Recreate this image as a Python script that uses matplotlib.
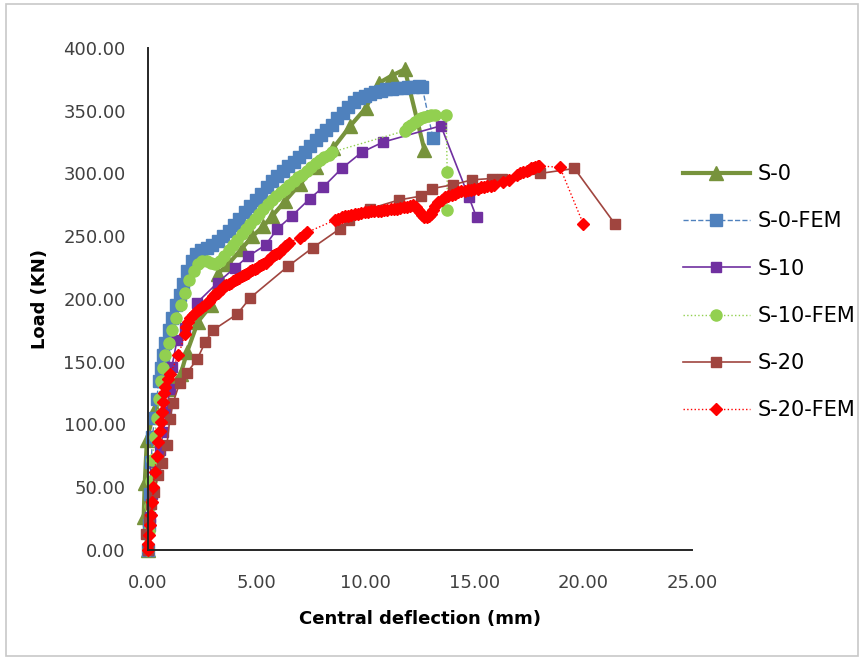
import matplotlib
matplotlib.use("Agg")
import matplotlib.pyplot as plt
from matplotlib.patches import Rectangle

# load-deflection curves (x = mm, y = kN)
s0_x = [0, -0.2, -0.15, -0.05, 0.3, 0.9, 1.5, 1.8, 2.3, 2.9, 3.2, 3.7, 4.3, 4.8, 5.3,
        5.7, 6.3, 7.0, 7.7, 8.5, 9.3, 10.0, 10.6, 11.2, 11.8, 12.7]
s0_y = [0, 26, 53, 88, 112, 128, 140, 158, 182, 195, 220, 228, 240, 250, 258,
        266, 278, 292, 305, 320, 338, 352, 372, 378, 383, 319]

s0fem_x = [0, 0.05, 0.1, 0.15, 0.2, 0.3, 0.4, 0.5, 0.6, 0.7, 0.8, 0.95, 1.1, 1.3, 1.45,
           1.6, 1.8, 2.0, 2.2, 2.45, 2.7, 2.95, 3.2, 3.45, 3.7, 3.95, 4.2, 4.45, 4.7,
           4.95, 5.2, 5.45, 5.7, 5.95, 6.2, 6.45, 6.7, 6.95, 7.2, 7.45, 7.7, 7.95,
           8.2, 8.45, 8.7, 8.95, 9.2, 9.45, 9.7, 9.95, 10.2, 10.45, 10.7, 10.95,
           11.2, 11.45, 11.7, 11.95, 12.2, 12.45, 12.6, 13.1]
s0fem_y = [0, 20, 45, 70, 90, 105, 120, 135, 145, 155, 165, 175, 185, 195, 203,
           212, 222, 230, 236, 239, 241, 243, 246, 250, 254, 259, 264, 269, 274,
           279, 284, 289, 294, 298, 302, 306, 309, 313, 317, 322, 327, 331,
           335, 339, 344, 348, 353, 357, 360, 362, 363, 365, 366, 367,
           367, 368, 368, 369, 369, 370, 369, 328]

s10_x = [0, 0.09, 0.2, 0.32, 0.45, 0.55, 0.7, 0.85, 1.0, 1.1, 1.33, 1.7, 2.25, 3.2,
         4.0, 4.6, 5.4, 5.95, 6.6, 7.44, 8.04, 8.9, 9.83, 10.8, 13.46, 14.75, 15.1]
s10_y = [0, 26, 45, 64, 72, 80, 94, 110, 128, 146, 167, 177, 197, 213,
         225, 234, 243, 256, 266, 280, 289, 304, 317, 325, 338, 281, 265]

s10fem_x = [0, 0.05, 0.1, 0.15, 0.2, 0.3, 0.4, 0.5, 0.6, 0.7, 0.8, 0.95, 1.1, 1.3,
            1.5, 1.7, 1.9, 2.1, 2.3, 2.5, 2.7, 2.9, 3.1, 3.3, 3.5, 3.7, 3.9, 4.1,
            4.3, 4.5, 4.7, 4.9, 5.1, 5.3, 5.5, 5.7, 5.9, 6.1, 6.3, 6.5, 6.7, 6.9,
            7.1, 7.3, 7.5, 7.7, 7.9, 8.1, 8.3, 8.45, 11.8, 11.95, 12.1, 12.25,
            12.4, 12.55, 12.7, 12.85, 13.0, 13.2, 13.7, 13.75, 13.75]
s10fem_y = [0, 15, 35, 55, 72, 90, 105, 120, 135, 145, 155, 165, 175, 185,
            195, 205, 215, 222, 228, 230, 230, 229, 228, 230, 234, 239, 243, 247,
            252, 256, 260, 264, 268, 272, 276, 279, 282, 285, 288, 291, 294, 297,
            299, 302, 305, 308, 311, 313, 315, 317, 334, 337, 339, 341,
            343, 344, 345, 346, 347, 347, 347, 301, 271]

s20_x = [0, -0.1, 0.05, 0.14, 0.28, 0.46, 0.64, 0.87, 1.0, 1.15, 1.45, 1.78, 2.26,
         2.64, 2.97, 4.1, 4.7, 6.43, 7.58, 8.82, 9.24, 10.2, 11.55, 12.55, 13.05,
         14.0, 14.9, 15.8, 16.27, 18.0, 19.6, 21.45]
s20_y = [0, 13, 25, 37, 46, 60, 69, 84, 104, 117, 133, 141, 152,
         166, 175, 188, 201, 226, 241, 256, 263, 272, 279, 282, 288,
         291, 295, 296, 296, 300, 304, 260]

s20fem_x = [0, 0.02, 0.05, 0.1, 0.15, 0.2, 0.25, 0.3, 0.4, 0.48,
            0.55, 0.6, 0.65, 0.7, 0.75, 0.8, 0.9, 1.0, 1.4, 1.7,
            1.75, 1.85, 1.95, 2.05, 2.15, 2.3, 2.4, 2.5, 2.6, 2.7,
            2.8, 2.9, 3.0, 3.1, 3.2, 3.3, 3.4, 3.5, 3.6, 3.7,
            3.8, 3.9, 4.0, 4.1, 4.2, 4.3, 4.4, 4.5, 4.6, 4.7,
            4.8, 4.9, 5.0, 5.1, 5.2, 5.3, 5.4, 5.5, 5.6, 5.7,
            5.8, 5.9, 6.0, 6.1, 6.2, 6.3, 6.4, 6.5, 6.99, 7.15,
            7.3, 8.6, 8.75, 8.9, 9.05, 9.2, 9.35, 9.5, 9.65, 9.8,
            9.95, 10.1, 10.25, 10.4, 10.55, 10.7, 10.85, 11.0, 11.15, 11.3,
            11.45, 11.6, 11.75, 11.9, 12.05, 12.2, 12.3, 12.4, 12.5, 12.6,
            12.7, 12.8, 12.9, 13.0, 13.1, 13.2, 13.35, 13.5, 13.65, 13.8,
            13.95, 14.1, 14.25, 14.4, 14.55, 14.7, 14.85, 15.0, 15.15, 15.3,
            15.45, 15.6, 15.75, 15.9, 16.3, 16.6, 16.96, 17.1, 17.25, 17.4,
            17.5, 17.6, 17.7, 17.8, 17.9, 17.95, 18.93, 20.0]
s20fem_y = [0, 5, 12, 20, 28, 38, 50, 62, 75, 86,
            95, 102, 110, 118, 125, 130, 136, 140, 155, 172,
            178, 182, 185, 187, 189, 191, 192, 194, 195, 197,
            198, 200, 202, 204, 205, 207, 208, 210, 211, 212,
            213, 214, 215, 216, 217, 218, 219, 220, 221, 222,
            223, 224, 225, 226, 227, 228, 229, 231, 232, 234,
            235, 236, 237, 239, 240, 242, 243, 245, 249, 251,
            253, 263, 264, 265, 266, 266, 267, 267.5, 268, 268.5,
            269, 269.5, 270, 270, 270.5, 270.5, 271, 271, 271.5, 272,
            272, 272.5, 273, 273, 274, 275, 273, 271, 269, 267,
            265, 265, 266, 268, 271, 274, 277, 279, 281, 282,
            283, 284, 285, 286, 286, 287, 287, 288, 288, 289,
            289, 290, 290, 291, 293, 295, 299, 300, 301, 302,
            303, 304, 304, 305, 306, 306, 305, 260]

labels = ["S-0", "S-0-FEM", "S-10", "S-10-FEM", "S-20", "S-20-FEM"]

plt.rcParams["font.family"] = ["DejaVu Sans"]

fig = plt.figure(figsize=(8.66, 6.59), dpi=100)
fig.patches.append(Rectangle((6 / 866, 3 / 659), 852 / 866, 652 / 659,
                             transform=fig.transFigure, fill=False,
                             edgecolor="#c8c8c8", linewidth=1.2))

ax = fig.add_axes([148 / 866, 1 - 550 / 659, 544 / 866, 502 / 659])

ax.plot(s0_x, s0_y, color="#77933C", lw=3, marker="^", ms=10, label=labels[0], clip_on=False)
ax.plot(s0fem_x, s0fem_y, color="#4F81BD", lw=1, ls="--", marker="s", ms=8.5, label=labels[1], clip_on=False)
ax.plot(s10_x, s10_y, color="#7030A0", lw=1.2, marker="s", ms=7.5, label=labels[2], clip_on=False)
ax.plot(s10fem_x, s10fem_y, color="#92D050", lw=1, ls=":", marker="o", ms=8, label=labels[3], clip_on=False)
ax.plot(s20_x, s20_y, color="#A0453F", lw=1.2, marker="s", ms=7, label=labels[4], clip_on=False)
ax.plot(s20fem_x, s20fem_y, color="#FF0000", lw=1, ls=":", marker="D", ms=6.5, label=labels[5], clip_on=False)

ax.set_xlim(0, 25)
ax.set_ylim(0, 400)
ax.set_xticks([0, 5, 10, 15, 20, 25])
ax.set_yticks(range(0, 401, 50))
ax.xaxis.set_major_formatter(matplotlib.ticker.FormatStrFormatter("%.2f"))
ax.yaxis.set_major_formatter(matplotlib.ticker.FormatStrFormatter("%.2f"))
ax.tick_params(length=0, labelsize=13, labelcolor="#404040")
ax.tick_params(axis="x", pad=17)
ax.tick_params(axis="y", pad=16)
for s in ["top", "right"]:
    ax.spines[s].set_visible(False)
for s in ["left", "bottom"]:
    ax.spines[s].set_color("#262626")
    ax.spines[s].set_linewidth(1.4)

ax.set_xlabel("Central deflection (mm)", fontsize=13, fontweight="bold", labelpad=13)
ax.set_ylabel("Load (KN)", fontsize=13, fontweight="bold", labelpad=10)

fig.legend(loc="upper left", bbox_to_anchor=(683 / 866, 1 - 164 / 659), frameon=False,
           borderpad=0, borderaxespad=0, handlelength=3.2, handletextpad=0.4,
           labelspacing=1.31, fontsize=15)

fig.savefig("out.png", dpi=100)
